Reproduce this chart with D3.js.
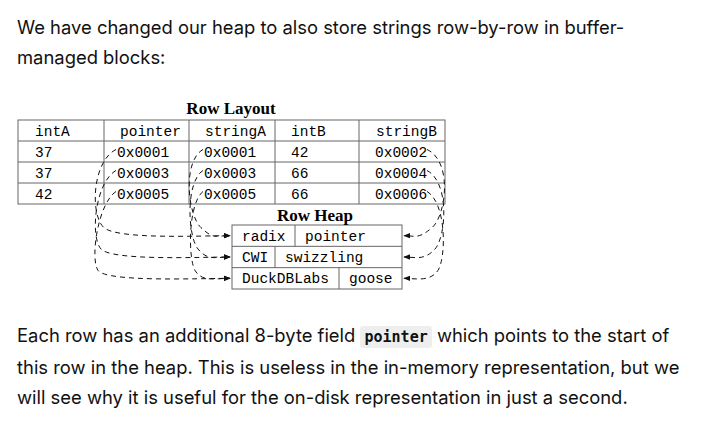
<!DOCTYPE html>
<html><head><meta charset="utf-8">
<script src="https://cdn.jsdelivr.net/npm/d3@7"></script>
<style>
body{margin:0;background:#fff;font-family:Inter,"Open Sans",sans-serif;color:#111;}
p{position:absolute;left:17px;margin:0;font-size:18.4px;line-height:30px;width:690px;white-space:nowrap;}
code{font-family:"DejaVu Sans Mono",monospace;font-weight:bold;font-size:15px;background:#eee;padding:2px 4px;border-radius:3px;}
svg{position:absolute;left:0;top:0;}
</style></head><body>
<p style="top:12px">We have changed our heap to also store strings row-by-row in buffer-<br>managed blocks:</p>
<p style="top:320px">Each row has an additional 8-byte field <code>pointer</code> which points to the start of<br>this row in the heap. This is useless in the in-memory representation, but we<br>will see why it is useful for the on-disk representation in just a second.</p>
<svg id="c" width="704" height="300"></svg>
<script>
const columns=["intA","pointer","stringA","intB","stringB"];
const colEdges=[18,104,189,275,359,445];
const intA=["37","37","42"];
const pointerCol=["0x0001","0x0003","0x0005"];
const stringA=["0x0001","0x0003","0x0005"];
const intB=["42","66","66"];
const stringB=["0x0002","0x0004","0x0006"];
const heapRows=[["radix","pointer"],["CWI","swizzling"],["DuckDBLabs","goose"]];
const heapSplit=[295,275,339];

const svg=d3.select("#c");
const mono='"Liberation Mono","DejaVu Sans Mono",monospace';
const fs=14.5;
const y=d3.scaleBand().domain(d3.range(4)).range([120,204]);
const hy=d3.scaleBand().domain(d3.range(3)).range([225,289]);
const defs=svg.append("defs");
defs.append("marker").attr("id","ah").attr("viewBox","0 0 10 10").attr("refX",9).attr("refY",5)
 .attr("markerWidth",7).attr("markerHeight",7).attr("orient","auto")
 .append("path").attr("d","M0,1L10,5L0,9Z").attr("fill","#111");

svg.append("text").attr("x",231).attr("y",114).attr("text-anchor","middle")
 .attr("font-family","Liberation Serif,serif").attr("font-weight","bold").attr("font-size",17).text("Row Layout");
const g=svg.append("g").attr("stroke","#666").attr("fill","none");
g.append("rect").attr("x",18).attr("y",120).attr("width",427).attr("height",84);
d3.range(1,4).forEach(i=>g.append("line").attr("x1",18).attr("x2",445).attr("y1",y(i)).attr("y2",y(i)));
colEdges.slice(1,-1).forEach(x=>g.append("line").attr("x1",x).attr("x2",x).attr("y1",120).attr("y2",204));
const rows=[columns,...d3.range(3).map(i=>[intA[i],pointerCol[i],stringA[i],intB[i],stringB[i]])];
const tx=[35,117,204,291,375];
const hx=[35,120,205,291,376];
rows.forEach((r,ri)=>r.forEach((t,ci)=>{
  svg.append("text").attr("x",ri==0?hx[ci]:tx[ci]).attr("y",y(ri)+y.bandwidth()/2+5)
   .attr("font-family",mono).attr("font-size",fs).text(t);
}));
svg.append("text").attr("x",315).attr("y",221).attr("text-anchor","middle")
 .attr("font-family","Liberation Serif,serif").attr("font-weight","bold").attr("font-size",17).text("Row Heap");
g.append("rect").attr("x",232).attr("y",225).attr("width",170).attr("height",64);
d3.range(1,3).forEach(i=>g.append("line").attr("x1",232).attr("x2",402).attr("y1",hy(i)).attr("y2",hy(i)));
heapRows.forEach((r,i)=>{
  g.append("line").attr("x1",heapSplit[i]).attr("x2",heapSplit[i]).attr("y1",hy(i)).attr("y2",hy(i)+hy.bandwidth());
  const cy=hy(i)+hy.bandwidth()/2+5;
  svg.append("text").attr("x",242).attr("y",cy).attr("font-family",mono).attr("font-size",fs).text(r[0]);
  svg.append("text").attr("x",heapSplit[i]+10).attr("y",cy).attr("font-family",mono).attr("font-size",fs).text(r[1]);
});
const ar=svg.append("g").attr("stroke","#111").attr("fill","none").attr("stroke-dasharray","5,4").attr("stroke-width",1);
d3.range(3).forEach(i=>{
  const sy=y(i+1)+y.bandwidth()/2-2, ty=hy(i)+hy.bandwidth()/2;
  const off=[8,5,2][i];
  ar.append("path").attr("marker-end","url(#ah)")
   .attr("d",`M116,${sy} C${100-off},${sy+12} 90,${ty-20} ${96+off},${ty-8} S200,${ty} 230,${ty}`);
  ar.append("path").attr("marker-end","url(#ah)")
   .attr("d",`M203,${sy} C${190-off},${sy+12} 188,${ty-20} ${193+off},${ty-8} S215,${ty} 230,${ty}`);
  ar.append("path").attr("marker-end","url(#ah)")
   .attr("d",`M427,${sy} C${445+off},${sy+12} 446,${ty-20} ${440-off},${ty-8} S415,${ty} 404,${ty}`);
});
</script></body></html>
